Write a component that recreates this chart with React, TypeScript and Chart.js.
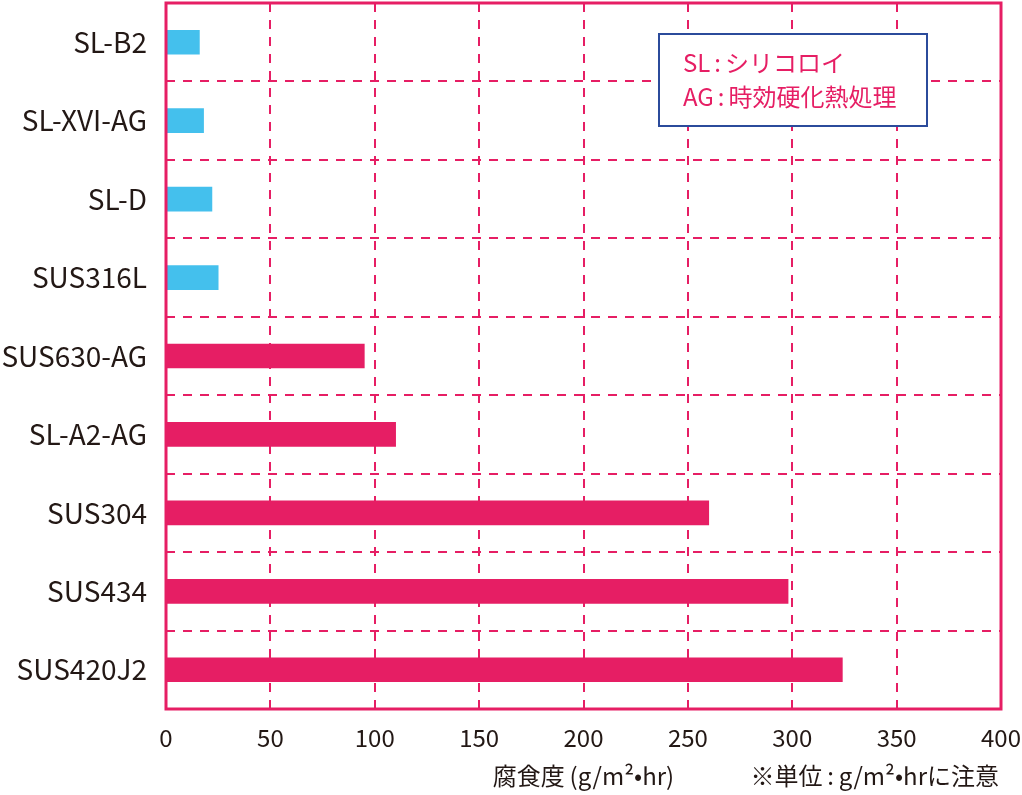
import { useEffect, useRef } from "react"
import { Chart, registerables, type ChartConfiguration, type Plugin } from "chart.js"

Chart.register(...registerables)

const categories = ["SL-B2", "SL-XVI-AG", "SL-D", "SUS316L", "SUS630-AG", "SL-A2-AG", "SUS304", "SUS434", "SUS420J2"]
const corrosionRates = [16, 18, 22, 25, 95, 110, 260, 298, 324]
const isSilicoloy = [true, true, true, true, false, false, false, false, false]
const axisMin = 0
const axisMax = 400
const axisStep = 50
const axisTitle = "腐食度\u2009(g/m²•hr)"
const unitNote = "※単位\u2009:\u2009g/m²•hrに注意"
const legendLines = ["SL:シリコロイ", "AG:時効硬化熱処理"]

const PINK = "#E61E64"
const BLUE = "#44C0ED"
const NAVY = "#2B4B9B"
const TEXT = "#231815"
const FONT = "'Noto Sans CJK JP', 'Noto Sans', sans-serif"

// frame, note and legend box
const decorations: Plugin<"bar"> = {
  id: "decorations",
  afterDatasetsDraw(chart) {
    const { ctx, chartArea } = chart
    ctx.save()
    // legend box
    const bx = 659
    const by = 34
    const bw = 268
    const bh = 92
    ctx.fillStyle = "#fff"
    ctx.fillRect(bx, by, bw, bh)
    ctx.strokeStyle = NAVY
    ctx.lineWidth = 2
    ctx.strokeRect(bx, by, bw, bh)
    ctx.fillStyle = PINK
    ctx.font = `24px ${FONT}`
    ctx.textBaseline = "middle"
    ctx.textAlign = "left"
    legendLines.forEach((line, i) => {
      const [head, rest] = line.split(":")
      const x0 = bx + 24
      const y0 = by + 29 + i * 34
      ctx.fillText(head, x0, y0)
      const hw = ctx.measureText(head).width
      ctx.fillText(":", x0 + hw + 4, y0)
      ctx.fillText(rest, x0 + hw + 4 + ctx.measureText(":").width + 4, y0)
    })

    // frame
    ctx.strokeStyle = PINK
    ctx.lineWidth = 3
    ctx.strokeRect(chartArea.left, chartArea.top, chartArea.right - chartArea.left, chartArea.bottom - chartArea.top)

    // unit note
    ctx.fillStyle = TEXT
    ctx.font = `24px ${FONT}`
    ctx.textAlign = "right"
    ctx.fillText(unitNote, chartArea.right - 2, 776)
    ctx.restore()
  },
}

export default function App() {
  const canvasRef = useRef<HTMLCanvasElement>(null)
  const chartRef = useRef<Chart<"bar"> | null>(null)

  useEffect(() => {
    if (!canvasRef.current) return
    if (chartRef.current) chartRef.current.destroy()

    const config: ChartConfiguration<"bar"> = {
      type: "bar",
      data: {
        labels: categories,
        datasets: [
          {
            data: corrosionRates,
            backgroundColor: isSilicoloy.map((s) => (s ? BLUE : PINK)),
            barThickness: 24,
            borderWidth: 0,
          },
        ],
      },
      options: {
        indexAxis: "y",
        animation: false,
        responsive: true,
        maintainAspectRatio: false,
        layout: { padding: { top: 3, right: 21, left: 0, bottom: 0 } },
        plugins: {
          legend: { display: false },
          tooltip: { enabled: false },
        },
        scales: {
          x: {
            min: axisMin,
            max: axisMax,
            ticks: {
              stepSize: axisStep,
              color: TEXT,
              font: { family: FONT, size: 24 },
              padding: 14,
            },
            grid: { color: PINK, lineWidth: 2, drawTicks: false },
            border: { display: false, dash: [9, 8] },
            title: {
              display: true,
              text: axisTitle,
              color: TEXT,
              font: { family: FONT, size: 24 },
              padding: { top: 0, bottom: 5 },
            },
            afterFit: (scale) => {
              scale.height = 86
              scale.paddingLeft = 0
              scale.paddingRight = 0
            },
          },
          y: {
            ticks: {
              color: TEXT,
              font: { family: FONT, size: 28 },
              padding: 19,
            },
            grid: { color: PINK, lineWidth: 2, drawTicks: false, offset: true },
            border: { display: false, dash: [9, 8] },
            afterFit: (scale) => {
              scale.width = 166
              scale.paddingTop = 0
              scale.paddingBottom = 0
            },
          },
        },
      },
      plugins: [decorations],
    }

    chartRef.current = new Chart(canvasRef.current, config)

    return () => {
      if (chartRef.current) {
        chartRef.current.destroy()
        chartRef.current = null
      }
    }
  }, [])

  return (
    <div style={{ position: "fixed", left: 0, top: 0, width: 1022, height: 795, background: "#fff" }}>
      <canvas ref={canvasRef} />
    </div>
  )
}
